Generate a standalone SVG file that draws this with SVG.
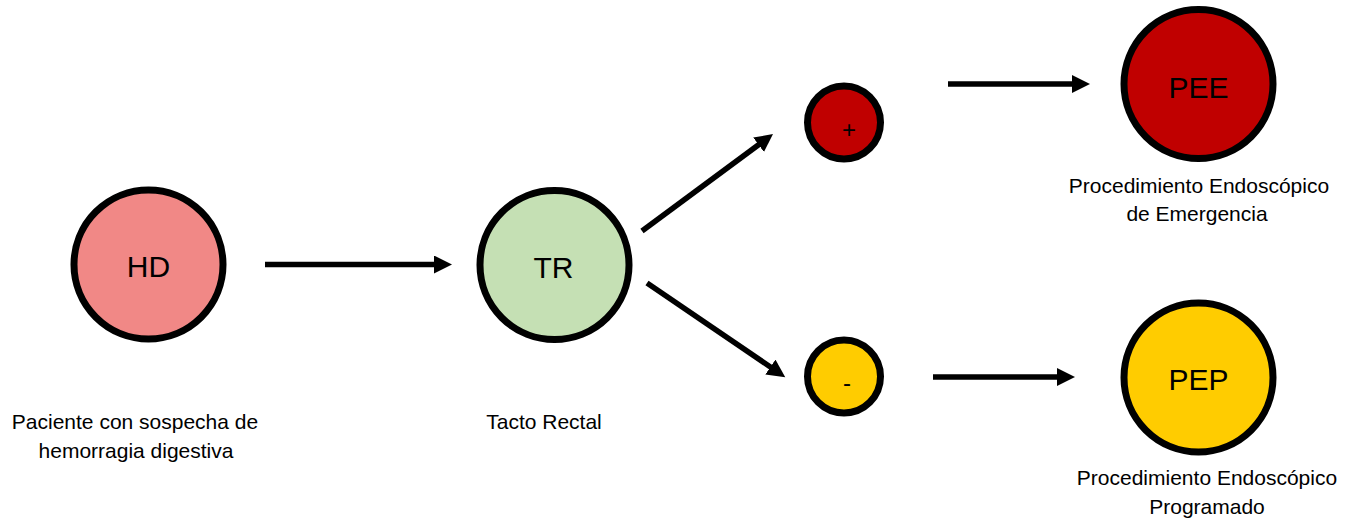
<svg xmlns="http://www.w3.org/2000/svg" width="1359" height="522" viewBox="0 0 1359 522">
<style>
.n{stroke:#000;stroke-width:7}
.t{font-family:"Liberation Sans",Arial,sans-serif;fill:#000;text-anchor:middle}
.big{font-size:30px}
.lab{font-size:21px}
.sm{font-size:24px}
.c{fill:none;stroke:#000;stroke-width:5.5}
</style>
<defs>
<marker id="ah" markerUnits="userSpaceOnUse" markerWidth="20" markerHeight="20" refX="8" refY="9" orient="auto">
<path d="M0,0 L18,9 L0,18 z" fill="#000"/>
</marker>
</defs>
<rect width="1359" height="522" fill="#fff"/>
<g id="connectors">
<line class="c" x1="265" y1="264.5" x2="442" y2="264.5" marker-end="url(#ah)"/>
<line class="c" x1="642" y1="231" x2="765" y2="140" marker-end="url(#ah)"/>
<line class="c" x1="647" y1="283" x2="777" y2="371.5" marker-end="url(#ah)"/>
<line class="c" x1="948" y1="84" x2="1080" y2="84" marker-end="url(#ah)"/>
<line class="c" x1="933" y1="377" x2="1065" y2="377" marker-end="url(#ah)"/>
</g>
<g id="HD">
<circle class="n" cx="148.5" cy="264.5" r="74.5" fill="#F18886"/>
<text class="t big" x="148.5" y="277">HD</text>
<text class="t lab" x="135" y="429">Paciente con sospecha de</text>
<text class="t lab" x="136" y="458">hemorragia digestiva</text>
</g>
<g id="TR">
<circle class="n" cx="554.5" cy="265" r="74.5" fill="#C5E0B4"/>
<text class="t big" x="553.5" y="278">TR</text>
<text class="t lab" x="544" y="429">Tacto Rectal</text>
</g>
<g id="pos">
<circle class="n" cx="844" cy="122.5" r="36.5" fill="#C00000"/>
<text class="t sm" x="849" y="138">+</text>
</g>
<g id="neg">
<circle class="n" cx="844" cy="376.5" r="36.5" fill="#FFCC00"/>
<text class="t sm" x="847" y="391">-</text>
</g>
<g id="PEE">
<circle class="n" cx="1198.5" cy="84" r="74.5" fill="#C00000"/>
<text class="t big" x="1198.5" y="98">PEE</text>
<text class="t lab" x="1199" y="193">Procedimiento Endoscópico</text>
<text class="t lab" x="1197" y="221">de Emergencia</text>
</g>
<g id="PEP">
<circle class="n" cx="1198.5" cy="377.5" r="74.5" fill="#FFCC00"/>
<text class="t big" x="1198.5" y="390">PEP</text>
<text class="t lab" x="1207" y="485">Procedimiento Endoscópico</text>
<text class="t lab" x="1207" y="514">Programado</text>
</g>
</svg>
